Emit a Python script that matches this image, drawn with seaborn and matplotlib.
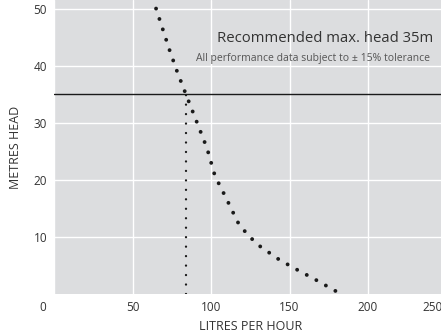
import numpy as np
import pandas as pd
import matplotlib
matplotlib.use("Agg")
import matplotlib.pyplot as plt
import matplotlib.transforms as mtransforms
import seaborn as sns

# pump curve
flow = [65, 73.5, 78.5, 84, 90, 97.5, 102.5, 110, 117, 123.5, 131, 143, 152.5, 166, 179.5]
head = [50, 42.8, 38.9, 35, 30.8, 25.5, 20.7, 16.6, 12.6, 10.3, 8.4, 6.1, 4.6, 2.6, 0.5]

# vertical limit line
limit_flow = [84, 84]
limit_head = [0, 35]

max_head = 35
x_ticks = [0, 50, 100, 150, 200, 250]
y_ticks = [10, 20, 30, 40, 50]

sns.set_theme(style="darkgrid")
plt.rcParams['font.family'] = ['Open Sans', 'DejaVu Sans']
plt.rcParams['axes.facecolor'] = '#dcdddf'
plt.rcParams['grid.color'] = 'white'
plt.rcParams['grid.linewidth'] = 1.0

fig = plt.figure(figsize=(4.41, 3.33), dpi=100)
ax = fig.add_axes([54 / 441, 39 / 333, 392.5 / 441, 294 / 333])

curve = pd.DataFrame({'flow': flow, 'head': head})
limit = pd.DataFrame({'flow': limit_flow, 'head': limit_head})

sns.lineplot(data=curve, x='flow', y='head', ax=ax, color='#1a1a1a', linewidth=2.8,
             linestyle=(0, (0.01, 2.8)), dash_capstyle='round', sort=False, estimator=None)
sns.lineplot(data=limit, x='flow', y='head', ax=ax, color='#1a1a1a', linewidth=1.7,
             linestyle=(0, (0.01, 4.0)), dash_capstyle='round', sort=False, estimator=None)

ax.axhline(max_head, color='#1a1a1a', linewidth=1.0)

ax.set_xlim(0, 250)
ax.set_ylim(0, 51.5)
ax.set_xticks(x_ticks)
ax.set_yticks(y_ticks)
ax.tick_params(axis='both', length=0, labelsize=8.5, labelcolor='#333333')
ax.tick_params(axis='x', pad=5)
ax.tick_params(axis='y', pad=5)
for s in ax.spines.values():
    s.set_visible(False)

# the end labels are nudged inwards
xlabels = ax.get_xticklabels()
for lbl, dx in ((xlabels[0], -11), (xlabels[-1], -14)):
    lbl.set_transform(lbl.get_transform() + mtransforms.ScaledTranslation(dx / 100, 0, fig.dpi_scale_trans))

ax.set_xlabel('LITRES PER HOUR', fontsize=9, color='#333333', labelpad=4)
ax.set_ylabel('METRES HEAD', fontsize=9, color='#333333', labelpad=8)

ax.text(433 / 441, 1 - 38 / 333, 'Recommended max. head 35m', transform=fig.transFigure,
        ha='right', va='center', fontsize=10.7, color='#333333')
ax.text(430 / 441, 1 - 59 / 333, 'All performance data subject to \u00b1 15% tolerance',
        transform=fig.transFigure, ha='right', va='center', fontsize=7.5, color='#555555',
        family=['Liberation Sans Narrow', 'Open Sans', 'DejaVu Sans'])

fig.savefig('out.png', dpi=100)
